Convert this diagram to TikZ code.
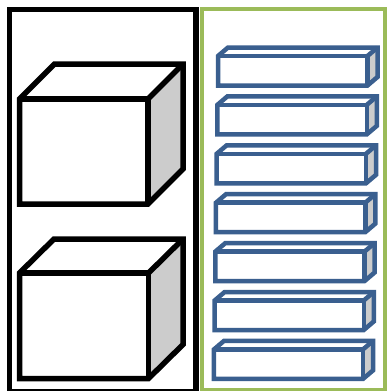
\documentclass[tikz,border=0pt]{standalone}
\definecolor{frameblack}{HTML}{000000}
\definecolor{framegreen}{HTML}{9BBB59}
\definecolor{barblue}{HTML}{3A5F8F}
\definecolor{sidegray}{HTML}{CCCCCC}
\begin{document}
\begin{tikzpicture}[x=1pt,y=-1pt,
  blackedge/.style={draw=frameblack,line width=5.5pt,line join=miter},
  greenedge/.style={draw=framegreen,line width=3.5pt},
  cubeline/.style={draw=black,line width=5.5pt,line join=miter},
  barline/.style={draw=barblue,line width=4.5pt,line join=miter},
  sideface/.style={fill=sidegray}]
\useasboundingbox (0,0) rectangle (388,391);
\fill[white] (0,0) rectangle (388,391);
% frames
\draw[blackedge] (9.5,9.5) rectangle (196,392);
\draw[greenedge] (202,9) rectangle (385,389.5);
% top cube
\fill[sideface] (148,99) -- (183,64) -- (183,169) -- (148,204) -- cycle;
\draw[cubeline] (19.5,204) -- (19.5,99) -- (54.5,64) -- (183,64) -- (183,169) -- (148,204) -- cycle;
\draw[cubeline] (19.5,99) -- (148,99) -- (148,204);
\draw[cubeline] (148,99) -- (183,64);
% bottom cube
\fill[sideface] (148.5,273) -- (183,239) -- (183,344.5) -- (148.5,378.5) -- cycle;
\draw[cubeline] (19.5,378.5) -- (19.5,273) -- (54,239) -- (183,239) -- (183,344.5) -- (148.5,378.5) -- cycle;
\draw[cubeline] (19.5,273) -- (148.5,273) -- (148.5,378.5);
\draw[cubeline] (148.5,273) -- (183,239);
% blue bars
\foreach \i in {0,...,6}{
  \pgfmathsetmacro{\t}{56+\i*48.9}
  \pgfmathsetmacro{\l}{218-\i*0.67}
  \pgfmathsetmacro{\r}{367.5-\i*0.75}
  \pgfmathsetmacro{\b}{\t+29.5}
  \fill[sideface] (\r,\t) -- (\r+10,\t-8.5) -- (\r+10,\b-8.5) -- (\r,\b) -- cycle;
  \draw[barline] (\l,\b) -- (\l,\t) -- (\l+10,\t-8.5) -- (\r+10,\t-8.5) -- (\r+10,\b-8.5) -- (\r,\b) -- cycle;
  \draw[barline] (\l,\t) -- (\r,\t) -- (\r,\b);
  \draw[barline] (\r,\t) -- (\r+10,\t-8.5);
}
\end{tikzpicture}
\end{document}
